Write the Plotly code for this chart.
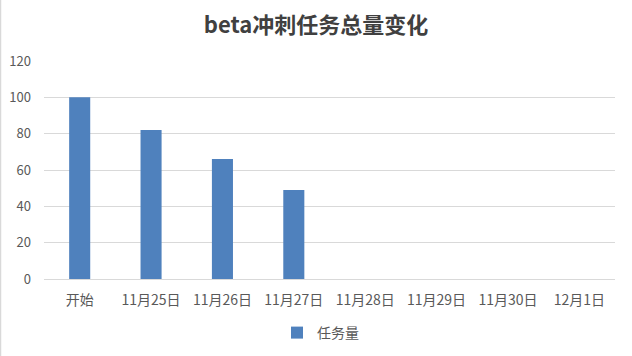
import plotly.graph_objects as go

categories = ["开始", "11月25日", "11月26日", "11月27日", "11月28日", "11月29日", "11月30日", "12月1日"]
task_counts = [100, 82, 66, 49, None, None, None, None]
y_ticks = [0, 20, 40, 60, 80, 100, 120]

FONT = "Noto Sans CJK SC, Microsoft YaHei, sans-serif"
TXT = "#595959"

fig = go.Figure()
fig.add_trace(go.Bar(
    x=categories, y=task_counts, name="任务量",
    marker=dict(color="#4F81BD", line=dict(width=0)),
))

L, R, T, B = 44, 17, 61, 77
W, H = 632, 356
pw = W - L - R

fig.update_layout(
    width=W, height=H,
    margin=dict(l=L, r=R, t=T, b=B, autoexpand=False),
    paper_bgcolor="white", plot_bgcolor="white",
    bargap=0.705,
    font=dict(family=FONT, color=TXT, size=13),
    title=dict(text="<b>beta冲刺任务总量变化</b>", x=0.5, xanchor="center",
               y=1 - 25 / H, yanchor="middle",
               font=dict(family=FONT, size=22, color="#404040")),
    showlegend=True,
    legend=dict(orientation="h", x=0.5 - 9 / pw, xanchor="center",
                yref="container", y=1 - 333 / H, yanchor="middle",
                font=dict(size=14, color=TXT), itemwidth=30),
    xaxis=dict(showgrid=False, showline=True, linecolor="#D9D9D9", linewidth=1,
               ticks="", tickfont=dict(size=14, color=TXT), ticklabelstandoff=8),
    yaxis=dict(range=[0, 120], tickvals=y_ticks, showgrid=True, gridcolor="#D9D9D9",
               gridwidth=1, zeroline=False, showline=False, ticks="",
               tickfont=dict(size=13, color=TXT), ticklabelstandoff=12),
    shapes=[dict(type="line", xref="paper", yref="paper",
                 x0=(0.5 - L) / pw, x1=(0.5 - L) / pw,
                 y0=-B / (H - T - B), y1=1 + T / (H - T - B),
                 line=dict(color="#D9D9D9", width=1.5))],
)

fig.write_html("out.html")
